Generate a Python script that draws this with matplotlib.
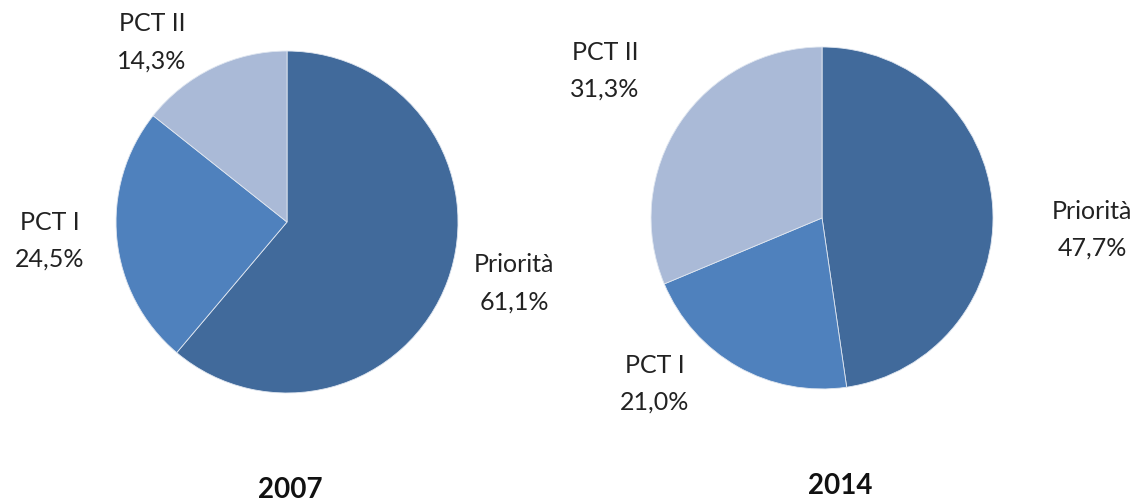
import matplotlib.pyplot as plt

plt.rcParams['font.family'] = ['Lato', 'DejaVu Sans']

categories = ["Priorità", "PCT I", "PCT II"]
values_2007 = [61.1, 24.5, 14.3]
values_2014 = [47.7, 21.0, 31.3]
years = ["2007", "2014"]
colors = ["#416A9B", "#4F81BD", "#AABAD7"]

FONT_SIZE = 18

fig = plt.figure(figsize=(11.41, 5.04), dpi=100)

# axes placed so the pies sit where the reference has them
ax1 = fig.add_axes([0.1017, 0.2202, 0.2997, 0.6786])
ax2 = fig.add_axes([0.5706, 0.2282, 0.2997, 0.6786])

# label positions in pie units (radius = 1)
label_pos_2007 = {"Priorità": (1.33, -0.36), "PCT I": (-1.39, -0.11), "PCT II": (-0.79, 1.05)}
label_pos_2014 = {"Priorità": (1.58, -0.07), "PCT I": (-0.98, -0.97), "PCT II": (-1.27, 0.86)}

for ax, vals, pos, year, yx in [
    (ax1, values_2007, label_pos_2007, years[0], 0.02),
    (ax2, values_2014, label_pos_2014, years[1], 0.105),
]:
    ax.pie(
        vals,
        colors=colors,
        startangle=90,
        counterclock=False,
        radius=1,
        wedgeprops=dict(edgecolor="#dfe6f0", linewidth=0.6),
    )
    for cat, v in zip(categories, vals):
        x, y = pos[cat]
        txt = f"{cat}\n{v:.1f}%".replace(".", ",")
        ax.text(x, y, txt, ha="center", va="center", fontsize=FONT_SIZE,
                color="#222222", linespacing=1.75)
    ax.text(yx, -1.57, year, ha="center", va="center", fontsize=FONT_SIZE + 2,
            fontweight="bold", color="#111111")
    ax.set_xlim(-1, 1)
    ax.set_ylim(-1, 1)
    ax.set_aspect("equal")
    ax.axis("off")

plt.savefig("out.png", dpi=100)
plt.close()
